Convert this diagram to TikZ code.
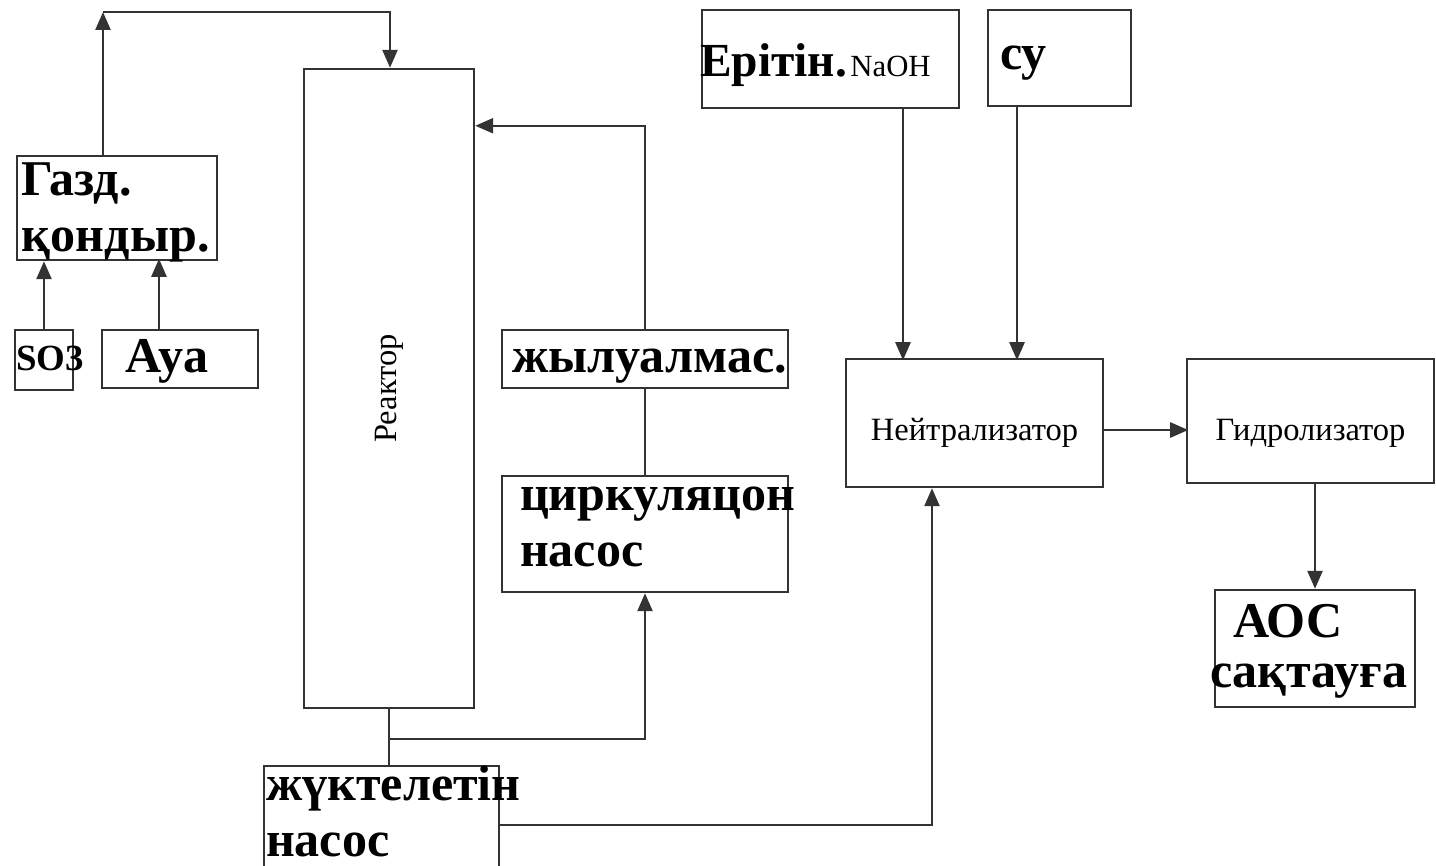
\documentclass[tikz,border=0pt]{standalone}
\usepackage{fontspec}
\setmainfont{Liberation Serif}
\usetikzlibrary{arrows.meta}

\begin{document}
\begin{tikzpicture}[>={Triangle[length=0.36cm,width=0.30cm]},
  box/.style={draw=black!80,line width=1.4pt,inner ysep=0pt,align=left,font=\bfseries\fontsize{28.5}{32}\selectfont},
  plain/.style={draw=black!80,line width=1.4pt,inner sep=0pt,font=\fontsize{18.5}{22}\selectfont},
  tb/.style 2 args={text height=#1,text depth=#2},
  flow/.style={line width=1.4pt,black!80}]
  \useasboundingbox (0,0) rectangle (28.72,-17.32);
  % feed and reactor loop
  \node[box,tb={0.78cm}{1.30cm},inner xsep=0.10cm,text width=3.80cm] (gas) at (2.34,-4.16) {Газд.\\қондыр.};
  \node[box,tb={0.80cm}{0.40cm},inner xsep=0.02cm,text width=1.12cm,font=\bfseries\fontsize{21}{24}\selectfont] (so) at (0.88,-7.20) {SO3};
  \node[box,tb={0.84cm}{0.32cm},inner xsep=0.46cm,text width=2.20cm] (aya) at (3.60,-7.18) {Ауа};
  \node[plain,minimum width=3.40cm,minimum height=12.78cm] (reactor) at (7.78,-7.77) {\rotatebox{90}{Реактор}};
  \node[box,tb={0.84cm}{0.32cm},inner xsep=0.20cm,text width=5.32cm] (heat) at (12.90,-7.18) {жылуалмас.};
  \node[box,tb={0.68cm}{1.64cm},inner xsep=0.36cm,text width=5.00cm] (circ) at (12.90,-10.68) {циркуляцон\\насос};
  \node[box,tb={0.68cm}{1.36cm},inner xsep=0.04cm,text width=4.62cm] (load) at (7.63,-16.34) {жүктелетін\\насос};
  % neutralisation
  \node[box,tb={1.34cm}{0.62cm},inner xsep=-0.04cm,text width=5.22cm,font=\bfseries\fontsize{27}{32}\selectfont] (naoh) at (16.61,-1.18) {Ерітін.{\mdseries\fontsize{17.5}{20}\selectfont\hspace{2pt}NaOH}};
  \node[box,tb={1.20cm}{0.72cm},inner xsep=0.24cm,text width=2.38cm] (su) at (21.19,-1.16) {су};
  \node[plain,tb={1.62cm}{0.94cm},minimum width=5.14cm] (neut) at (19.49,-8.46) {Нейтрализатор};
  \node[plain,tb={1.62cm}{0.86cm},minimum width=4.94cm] (hydro) at (26.21,-8.42) {Гидролизатор};
  \node[box,tb={0.94cm}{1.40cm},inner xsep=-0.10cm,text width=4.20cm] (aoc) at (26.30,-12.97) {\hspace*{0.46cm}АОС\\[-3pt]сақтауға};
  \coordinate (top) at (2.06,-0.24);
  \draw[flow,->] ([xshift=-0.28cm]gas.north) -- (top);
  \draw[flow,->] (top) -| ([xshift=0.02cm]reactor.north);
  \draw[flow,->] (so.north) -- (so.north |- gas.south);
  \draw[flow,->] ([xshift=-0.42cm]aya.north) -- ++(0,1.40);
  \draw[flow] (reactor.south) -- (reactor.south |- load.north);
  \draw[flow,->] ([yshift=-0.60cm]reactor.south) -| (circ.south);
  \draw[flow] (circ.north) -- (heat.south);
  \draw[flow,->] (heat.north) -- ++(0,4.06) coordinate (h) -- (h -| reactor.east);
  \draw[flow,->] ([yshift=-0.16cm]load.east) -| ([xshift=-0.85cm]neut.south);
  \draw[flow,->] ([xshift=1.45cm]naoh.south) -- ++(0,-5.02);
  \draw[flow,->] ([xshift=-0.85cm]su.south) -- ++(0,-5.06);
  \draw[flow,->] ([yshift=-0.14cm]neut.east) -- ++(1.68,0);
  \draw[flow,->] (aoc.north |- hydro.south) -- (aoc.north);
\end{tikzpicture}
\end{document}
